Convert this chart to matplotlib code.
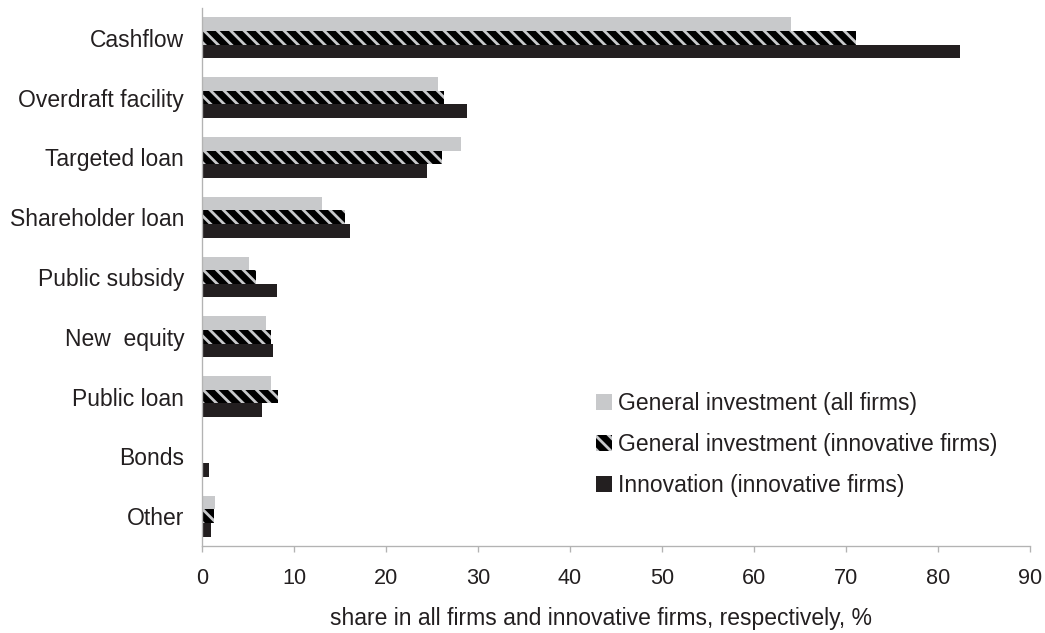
from matplotlib import pyplot as plt
import numpy as np

categories = [
    "Cashflow", "Overdraft facility", "Targeted loan", "Shareholder loan",
    "Public subsidy", "New  equity", "Public loan", "Bonds", "Other"
]

gen_all_firms = [64.0, 25.7, 28.2, 13.0, 5.1, 7.0, 7.5, 0.0, 1.4]
gen_innovative_firms = [71.1, 26.3, 26.1, 15.5, 5.9, 7.5, 8.3, 0.0, 1.3]
innovation_innovative_firms = [82.4, 28.8, 24.5, 16.1, 8.1, 7.7, 6.5, 0.8, 1.0]

series_labels = [
    "General investment (all firms)",
    "General investment (innovative firms)",
    "Innovation (innovative firms)",
]

x_ticks = [0, 10, 20, 30, 40, 50, 60, 70, 80, 90]
x_label = "share in all firms and innovative firms, respectively, %"

## dpi 80 so the hatch spacing comes out close to the original stripes
DPI = 80
W, H = 1045, 633

text_col = "#231f20"
axis_col = "#b3b3b3"
light_gray = "#c8c9cb"
dark = "#231f20"

plt.rcParams["font.family"] = ["Liberation Sans", "DejaVu Sans"]
plt.rcParams["hatch.linewidth"] = 2.5
fs_text = 20.6
fs_tick = 19.5

fig = plt.figure(figsize=(W / DPI, H / DPI), dpi=DPI)
ax = fig.add_axes([202 / W, 1 - 546 / H, (1030 - 202) / W, (546 - 8) / H])

y = np.arange(len(categories))
h = 0.228

ax.barh(y - h, gen_all_firms, height=h, color=light_gray, linewidth=0,
        label=series_labels[0])
ax.barh(y, gen_innovative_firms, height=h, facecolor="#000000",
        edgecolor=light_gray, linewidth=0, hatch="\\\\", label=series_labels[1])
ax.barh(y + h, innovation_innovative_firms, height=h, color=dark, linewidth=0,
        label=series_labels[2])

ax.set_ylim(len(categories) - 0.5, -0.5)
ax.set_xlim(0, 90)
ax.set_xticks(x_ticks)
ax.set_yticks(y)
ax.set_yticklabels(categories)

for side in ["top", "right"]:
    ax.spines[side].set_visible(False)
for side in ["left", "bottom"]:
    ax.spines[side].set_color(axis_col)
    ax.spines[side].set_linewidth(1.2)

ax.tick_params(axis="x", length=5, width=1.2, color=axis_col, pad=15,
               labelsize=fs_tick, labelcolor=text_col)
ax.tick_params(axis="y", length=0, pad=16, labelsize=fs_text, labelcolor=text_col)

ax.set_xlabel(x_label, fontsize=fs_text, color=text_col, labelpad=16)
## label sits a bit left of the axes centre in the original
ax.xaxis.label.set_x(0.482)

leg = ax.legend(
    loc="upper left",
    bbox_to_anchor=(596 / W, 1 - 392 / H),
    bbox_transform=fig.transFigure,
    frameon=False,
    fontsize=fs_text,
    handlelength=0.7,
    handleheight=0.7,
    handletextpad=0.26,
    labelspacing=0.78,
    borderpad=0,
    borderaxespad=0,
)
for t in leg.get_texts():
    t.set_color(text_col)

fig.savefig("out.png", dpi=DPI)
